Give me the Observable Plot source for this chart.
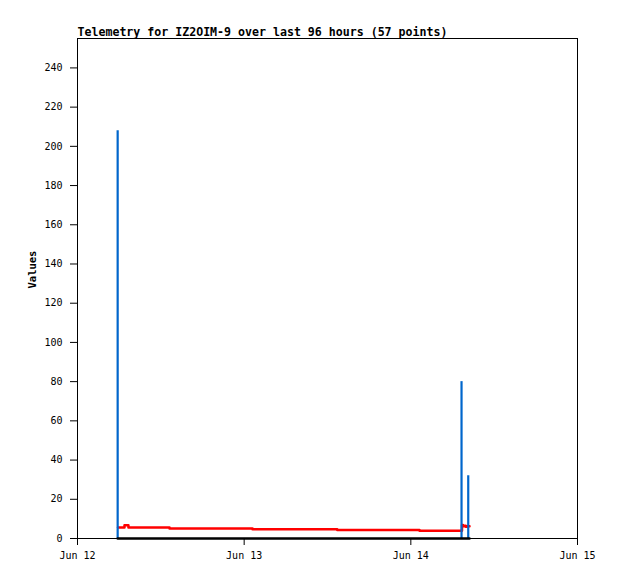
<!DOCTYPE html>
<html>
<head>
<meta charset="utf-8">
<script src="https://cdn.jsdelivr.net/npm/d3@7"></script>
<script src="https://cdn.jsdelivr.net/npm/@observablehq/plot@0.6"></script>
<style>
  html, body { margin: 0; padding: 0; background: #fff; }
</style>
</head>
<body>
<div id="chart"></div>
<script>
const title = "Telemetry for IZ2OIM-9 over last 96 hours (57 points)";
const yLabel = "Values";

// red series (step line)
const redTimes = [
  "2023-06-12T05:50Z", "2023-06-12T06:46Z", "2023-06-12T07:20Z", "2023-06-12T13:15Z",
  "2023-06-13T01:12Z", "2023-06-13T13:24Z", "2023-06-14T01:15Z", "2023-06-14T07:22Z",
  "2023-06-14T07:30Z", "2023-06-14T07:42Z", "2023-06-14T07:54Z", "2023-06-14T08:06Z",
  "2023-06-14T08:27Z"
];
const redValues = [5.6, 6.8, 5.6, 5.1, 4.7, 4.3, 3.9, 6.9, 6.2, 6.5, 6.0, 6.3, 6.3];

// blue series (spikes)
const blueTimes = ["2023-06-12T05:47Z", "2023-06-14T07:18Z", "2023-06-14T08:16Z"];
const blueValues = [208, 80, 32];

// black series (zero)
const blackTimes = ["2023-06-12T05:47Z", "2023-06-14T08:27Z"];
const blackValues = [0, 0];

const xTicks = ["2023-06-12T00:00Z", "2023-06-13T00:00Z", "2023-06-14T00:00Z", "2023-06-15T00:00Z"];
const yTicks = [0, 20, 40, 60, 80, 100, 120, 140, 160, 180, 200, 220, 240];

const red = redTimes.map((t, i) => ({t: new Date(t), v: redValues[i]}));
const blue = blueTimes.map((t, i) => ({t: new Date(t), v: blueValues[i]}));
const black = blackTimes.map((t, i) => ({t: new Date(t), v: blackValues[i]}));

const chart = Plot.plot({
  width: 618,
  height: 579,
  marginLeft: 77,
  marginRight: 41,
  marginTop: 38,
  marginBottom: 41,
  style: {fontFamily: "'DejaVu Sans Mono', monospace", fontSize: "10px", background: "#fff", overflow: "visible", color: "#000"},
  x: {type: "utc", domain: [new Date(xTicks[0]), new Date(xTicks[3])]},
  y: {domain: [0, 255]},
  marks: [
    Plot.line(red, {x: "t", y: "v", stroke: "#ff0000", strokeWidth: 2.5, curve: "step-after"}),
    Plot.ruleX(blue, {x: "t", y1: 0, y2: "v", stroke: "#0066cc", strokeWidth: 2.2}),
    Plot.line(black, {x: "t", y: "v", stroke: "#000", strokeWidth: 2.5}),
    Plot.frame({stroke: "#000", strokeWidth: 1}),
    Plot.axisX({ticks: xTicks.map(d => new Date(d)), tickFormat: d3.utcFormat("%b %d"), tickSize: 7, tickPadding: 6, label: null, stroke: "#000", fill: "#000"}),
    Plot.axisY({ticks: yTicks, tickSize: 7, tickPadding: 8, label: null, stroke: "#000", fill: "#000"}),
    Plot.text([title], {frameAnchor: "top-left", dy: -3, lineAnchor: "bottom", textAnchor: "start", fontWeight: "bold", fontSize: 11.6, fill: "#000"}),
    Plot.text([yLabel], {frameAnchor: "left", rotate: -90, dx: -45, fontWeight: "bold", fontSize: 10.5, fill: "#000"})
  ]
});
document.getElementById("chart").appendChild(chart);
</script>
</body>
</html>
